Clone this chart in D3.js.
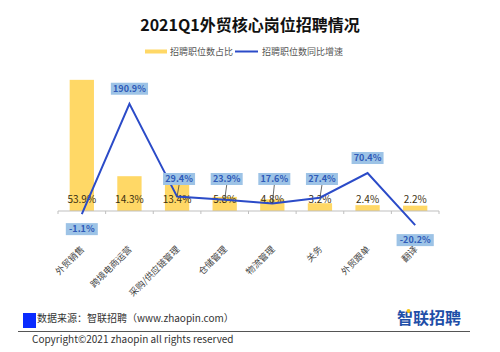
<!DOCTYPE html>
<html>
<head>
<meta charset="utf-8">
<script src="https://cdn.jsdelivr.net/npm/d3@7"></script>
<style>
  body { margin: 0; background: #fff; }
  svg { display: block; font-family: "Noto Sans CJK SC", "Microsoft YaHei", sans-serif; }
</style>
</head>
<body>
<svg id="chart" width="500" height="352"></svg>
<script>
// Data
const categories = ["外贸销售", "跨境电商运营", "采购/供应链管理", "仓储管理", "物流管理", "关务", "外贸跟单", "翻译"];
const shareValues = [53.9, 14.3, 13.4, 5.8, 4.8, 3.2, 2.4, 2.2];
const growthValues = [-1.1, 190.9, 29.4, 23.9, 17.6, 27.4, 70.4, -20.2];
const legendLabels = ["招聘职位数占比", "招聘职位数同比增速"];

// Layout
const W = 500, H = 352;
const plot = { left: 58, right: 439, axisY: 211 };
const C = {
  bar: "#FFD866",
  line: "#2B4BC8",
  boxFill: "#9DC3E6",
  boxText: "#2F5AB8",
  text: "#333"
};

const svg = d3.select("#chart");

const x = d3.scaleBand().domain(categories).range([plot.left, plot.right]).paddingInner(0.49).paddingOuter(0.245);
const yBar = d3.scaleLinear().domain([0, 60]).range([plot.axisY, plot.axisY - 146]);
const yLine = d3.scaleLinear().domain([-40, 200]).range([213.5 + 40 * 0.575, 213.5 - 200 * 0.575]);
const cx = d => x(d) + x.bandwidth() / 2;

// Title
svg.append("text")
  .attr("x", W / 2).attr("y", 31)
  .attr("text-anchor", "middle")
  .style("font-size", "16px").style("font-weight", "700").style("fill", "#111")
  .text("2021Q1外贸核心岗位招聘情况");

// Legend
const lg = svg.append("g").style("font-size", "9px").style("fill", "#555");
lg.append("rect").attr("x", 145).attr("y", 49.5).attr("width", 22).attr("height", 4).attr("fill", C.bar);
lg.append("text").attr("x", 170).attr("y", 55).text(legendLabels[0]);
lg.append("line").attr("x1", 235).attr("x2", 258).attr("y1", 51.5).attr("y2", 51.5)
  .attr("stroke", C.line).attr("stroke-width", 2);
lg.append("text").attr("x", 262).attr("y", 55).text(legendLabels[1]);

// Bars
svg.append("g").selectAll("rect")
  .data(shareValues)
  .join("rect")
  .attr("x", (d, i) => x(categories[i]))
  .attr("y", d => yBar(d))
  .attr("width", x.bandwidth())
  .attr("height", d => plot.axisY - yBar(d))
  .attr("fill", C.bar);

// Axis
const axisG = svg.append("g");
axisG.append("line")
  .attr("x1", plot.left).attr("x2", plot.right)
  .attr("y1", plot.axisY).attr("y2", plot.axisY)
  .attr("stroke", "#BFBFBF");
const step = x.step();
d3.range(categories.length + 1).forEach(i => {
  const tx = plot.left + i * (plot.right - plot.left) / categories.length;
  axisG.append("line")
    .attr("x1", tx).attr("x2", tx)
    .attr("y1", plot.axisY).attr("y2", plot.axisY + 3)
    .attr("stroke", "#BFBFBF");
});

// Bar value labels (inside base)
svg.append("g").selectAll("text")
  .data(shareValues)
  .join("text")
  .attr("x", (d, i) => cx(categories[i]))
  .attr("y", plot.axisY - 8)
  .attr("text-anchor", "middle")
  .style("font-size", "10px").style("fill", "#3a2f10")
  .text(d => d.toFixed(1) + "%");

// Category labels
svg.append("g").selectAll("text")
  .data(categories)
  .join("text")
  .attr("transform", d => `translate(${cx(d) + 3},${plot.axisY + 39}) rotate(-45)`)
  .attr("text-anchor", "end")
  .style("font-size", "9px").style("fill", "#444")
  .text(d => d);

// Line
const line = d3.line()
  .x((d, i) => cx(categories[i]))
  .y(d => yLine(d));
svg.append("path")
  .datum(growthValues)
  .attr("d", line)
  .attr("fill", "none")
  .attr("stroke", C.line)
  .attr("stroke-width", 2);

// Line labels with boxes
const labG = svg.append("g");
growthValues.forEach((v, i) => {
  const px = cx(categories[i]);
  const py = yLine(v);
  const txt = v.toFixed(1) + "%";
  const bw = txt.length * 5.2 + 6, bh = 12;
  let by;
  if (v < 0) {
    by = py + 9 + bh / 2;
  } else {
    by = py - 15;
    if (by + bh / 2 > 185) by = 185 - bh / 2;
  }
  const bx = px + (v >= 0 && by < py - 16 ? 2 : 0);
  if (v >= 0 && py - (by + bh / 2) > 9.5) {
    labG.append("line")
      .attr("x1", bx).attr("y1", by + bh / 2)
      .attr("x2", px).attr("y2", py)
      .attr("stroke", "#444").attr("stroke-width", 0.8);
  }
  labG.append("rect")
    .attr("x", bx - bw / 2).attr("y", by - bh / 2)
    .attr("width", bw).attr("height", bh)
    .attr("fill", C.boxFill);
  labG.append("text")
    .attr("x", bx).attr("y", by + 3.3)
    .attr("text-anchor", "middle")
    .style("font-size", "9px").style("font-weight", "700").style("fill", C.boxText)
    .text(txt);
});

// Footer
svg.append("rect").attr("x", 23).attr("y", 313).attr("width", 13).attr("height", 15).attr("fill", "#0A2BFF");
svg.append("text").attr("x", 37).attr("y", 322)
  .style("font-size", "10px").style("fill", "#333")
  .text("数据来源：智联招聘（www.zhaopin.com）");
svg.append("line").attr("x1", 18).attr("x2", 470).attr("y1", 331.5).attr("y2", 331.5)
  .attr("stroke", "#555").attr("stroke-width", 1);
svg.append("text").attr("x", 32).attr("y", 343)
  .style("font-size", "10px").style("fill", "#333")
  .text("Copyright©2021 zhaopin all rights reserved");
svg.append("text").attr("x", 397).attr("y", 324)
  .style("font-size", "16px").style("font-weight", "700").style("fill", "#1F4FA8")
  .text("智联招聘");
svg.append("circle").attr("cx", 408.5).attr("cy", 311).attr("r", 2).attr("fill", "#F5C518");
</script>
</body>
</html>
